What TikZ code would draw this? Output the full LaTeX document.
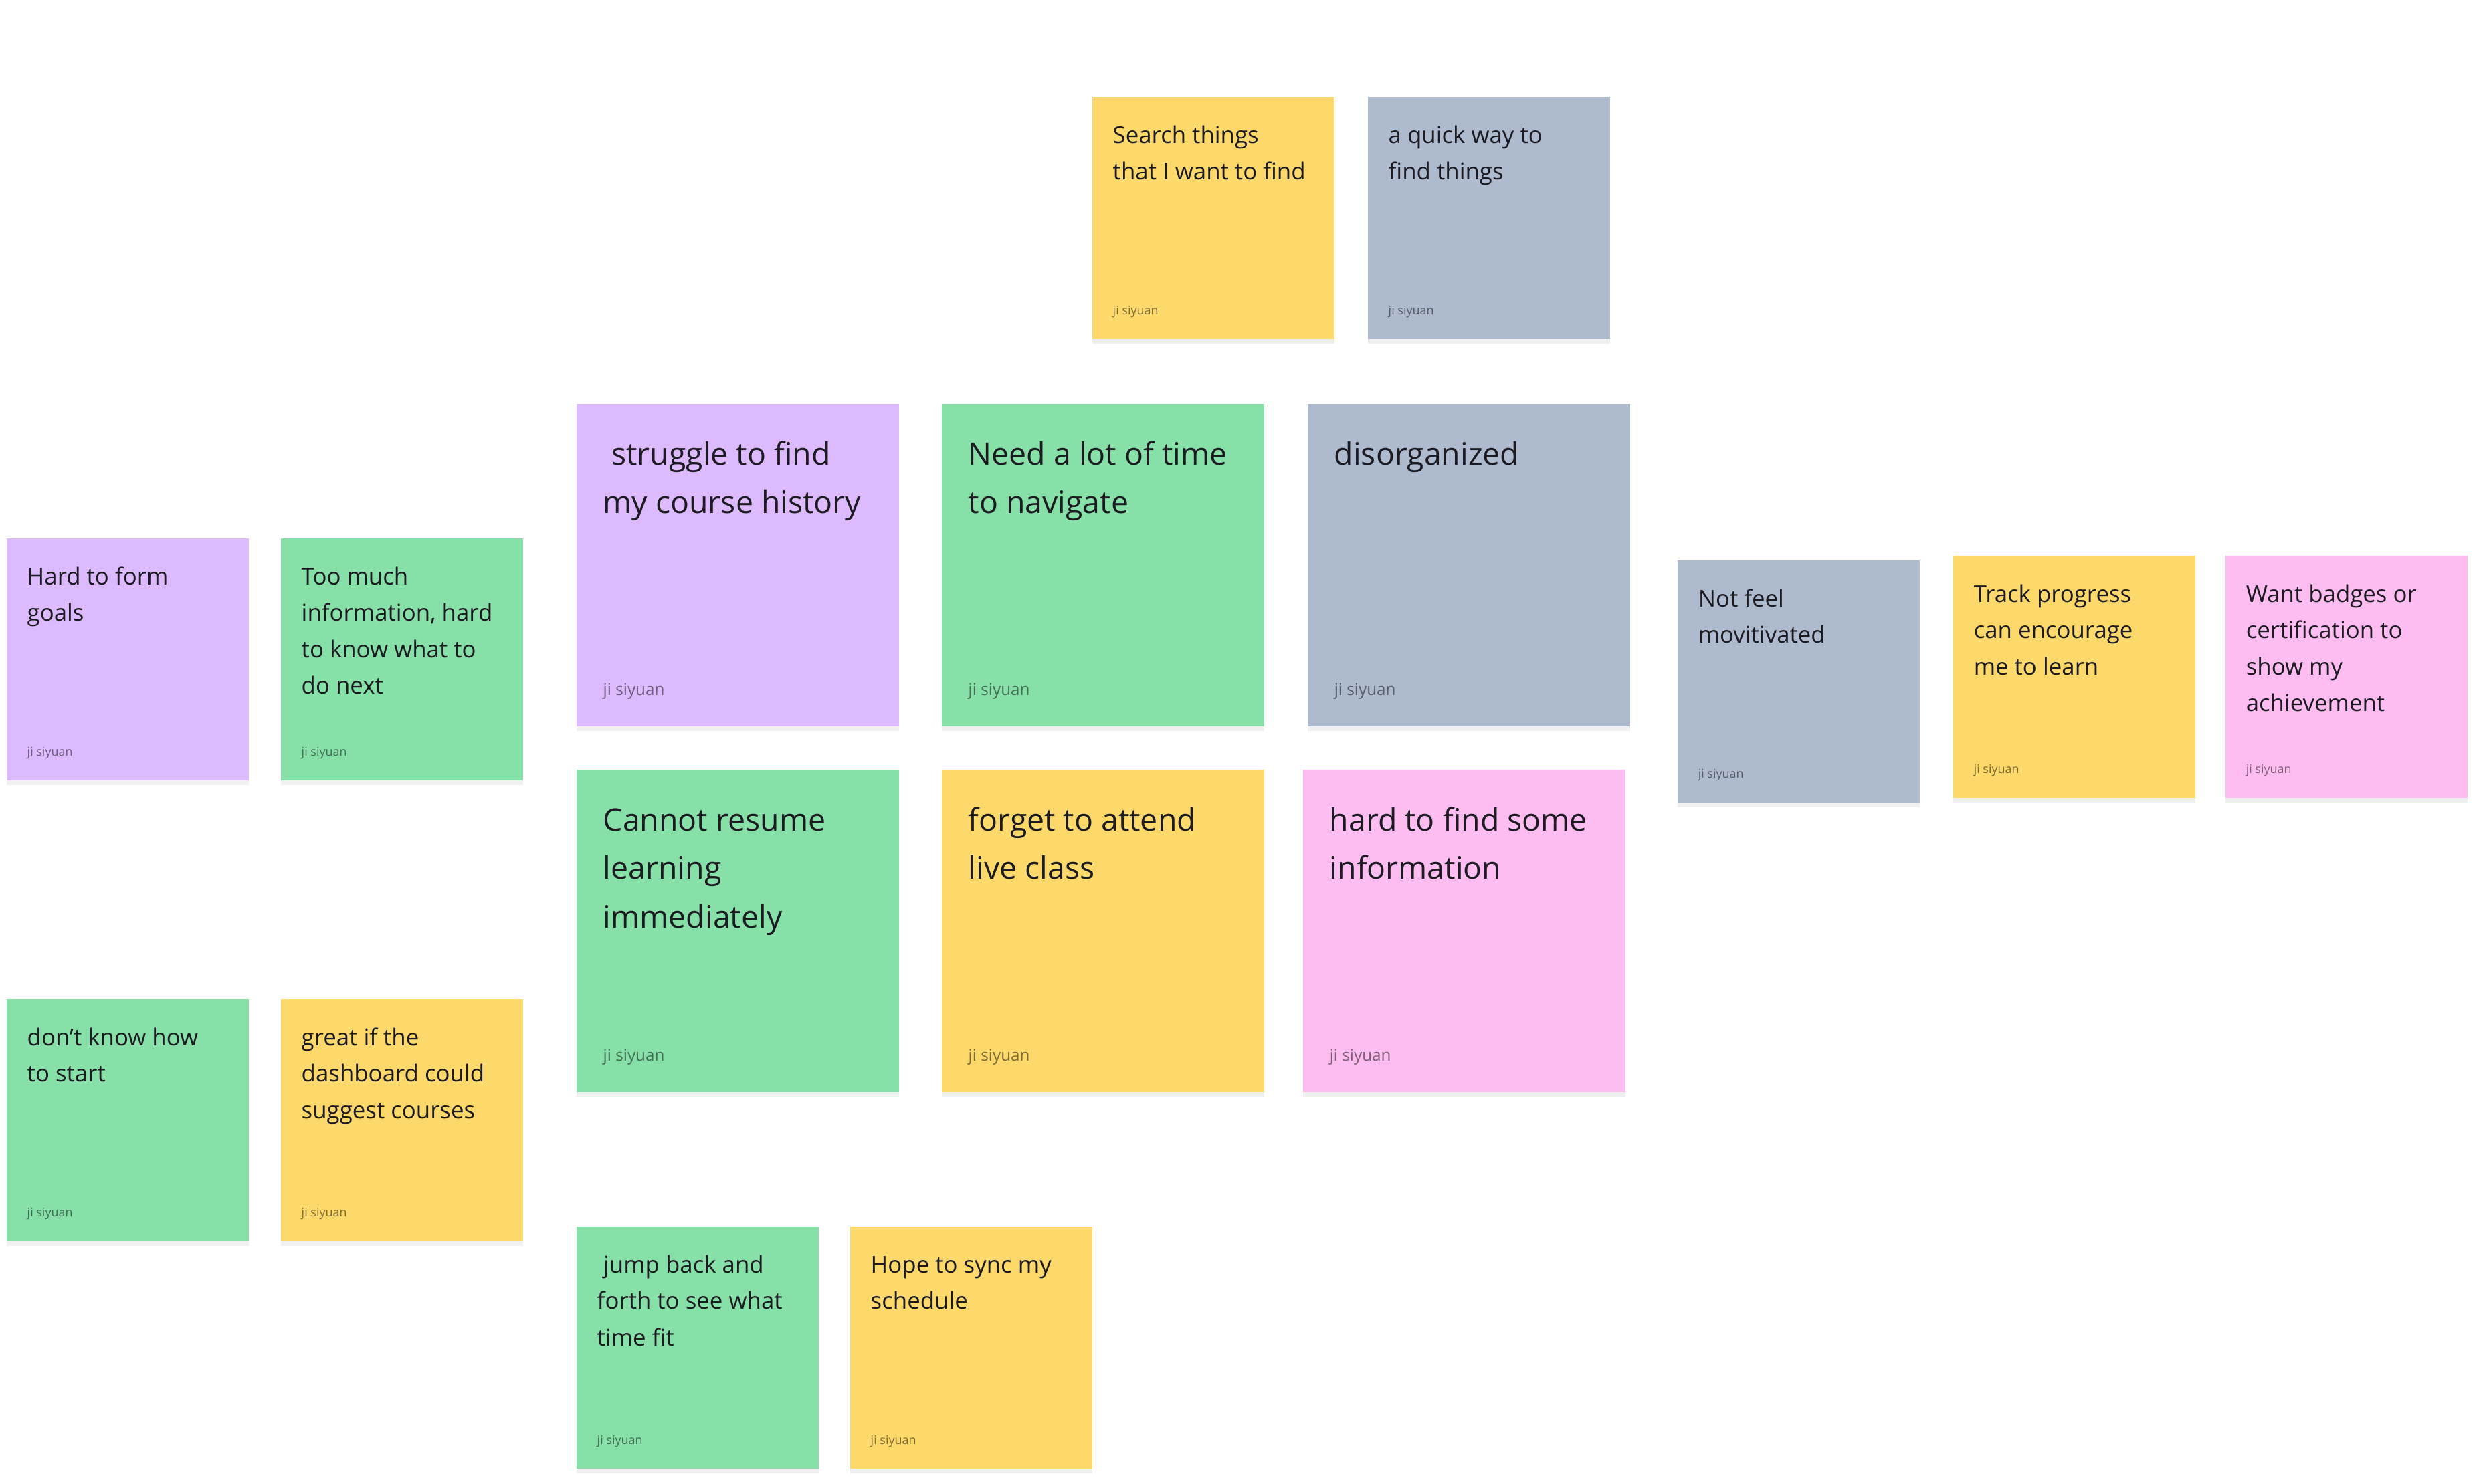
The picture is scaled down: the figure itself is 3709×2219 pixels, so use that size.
\documentclass[tikz,border=0pt]{standalone}
\usepackage{fontspec}
\setmainfont{Open Sans}
\usetikzlibrary{shadows}
\definecolor{noteyellow}{HTML}{FDD86A}
\definecolor{noteblue}{HTML}{AEBBCF}
\definecolor{notepurple}{HTML}{DDBAFD}
\definecolor{notegreen}{HTML}{86E0A8}
\definecolor{notepink}{HTML}{FDBDF0}
\definecolor{notetext}{HTML}{1C1B22}
\tikzset{
  notebase/.style={anchor=north west, inner sep=0pt, draw=none,
    drop shadow={shadow xshift=0pt, shadow yshift=-2pt, opacity=0.06, fill=black}},
  smallcard/.style={notebase, minimum width=3.62cm, minimum height=3.62cm},
  bigcard/.style={notebase, minimum width=4.82cm, minimum height=4.82cm},
  smalltext/.style={anchor=base west, inner sep=0pt, text=notetext,
    font=\fontsize{9.9}{15.5}\selectfont},
  bigtext/.style={anchor=base west, inner sep=0pt, text=notetext,
    font=\fontsize{13.2}{20.7}\selectfont},
  smallauthor/.style={anchor=base west, inner sep=0pt, text=black, text opacity=0.5,
    font=\fontsize{5.1}{6}\selectfont},
  bigauthor/.style={anchor=base west, inner sep=0pt, text=black, text opacity=0.5,
    font=\fontsize{6.9}{8}\selectfont},
  grouplabel/.style={inner sep=0pt, text=white, font=\fontsize{18}{22}\selectfont}
}
\newcommand{\smallnote}[5]{%
  \node[smallcard, fill=#4] (#1) at (#2,#3) {};
  \node[smalltext] (#1-t) at ([xshift=0.31cm,yshift=-0.70cm]#1.north west)
    {\parbox[t]{3.25cm}{\raggedright #5}};
  \node[smallauthor] (#1-a) at ([xshift=0.31cm,yshift=0.37cm]#1.south west) {ji siyuan};
}
\newcommand{\bignote}[5]{%
  \node[bigcard, fill=#4] (#1) at (#2,#3) {};
  \node[bigtext] (#1-t) at ([xshift=0.40cm,yshift=-0.92cm]#1.north west)
    {\parbox[t]{4.4cm}{\raggedright #5}};
  \node[bigauthor] (#1-a) at ([xshift=0.40cm,yshift=0.47cm]#1.south west) {ji siyuan};
}
\begin{document}
\begin{tikzpicture}[x=0.01cm,y=-0.01cm]
\useasboundingbox[fill=white] (0,0) rectangle (3709,2219);

% faint (white) group labels
\node[grouplabel] (lab-way) at (1870,55) {Way to find things};
\node[grouplabel] (lab-dis) at (1270,492) {Disorganized};
\node[grouplabel] (lab-goal) at (190,715) {Goal forming};
\node[grouplabel] (lab-prog) at (2700,775) {Progress tracking};
\node[grouplabel] (lab-rec) at (480,1410) {Course recommendation};
\node[grouplabel] (lab-sch) at (1010,1740) {Schedule sync};

% top pair
\smallnote{search}{1632}{144}{noteyellow}{Search things\\that I want to find}
\smallnote{quick}{2044}{144}{noteblue}{a quick way to\\find things}

% big central cards
\bignote{struggle}{861}{603}{notepurple}{\hspace*{0.27em}struggle to find\\my course history}
\bignote{navigate}{1407}{603}{notegreen}{Need a lot of time\\to navigate}
\bignote{disorg}{1954}{603}{noteblue}{disorganized}
\bignote{resume}{861}{1150}{notegreen}{Cannot resume\\learning\\immediately}
\bignote{forget}{1407}{1150}{noteyellow}{forget to attend\\live class}
\bignote{hardfind}{1947}{1150}{notepink}{hard to find some\\information}

% goal forming
\smallnote{goals}{9}{804}{notepurple}{Hard to form\\goals}
\smallnote{toomuch}{419}{804}{notegreen}{Too much\\information, hard\\to know what to\\do next}

% recommendation
\smallnote{start}{9}{1493}{notegreen}{don’t know how\\to start}
\smallnote{suggest}{419}{1493}{noteyellow}{great if the\\dashboard could\\suggest courses}

% progress tracking
\smallnote{motiv}{2507}{837}{noteblue}{Not feel\\movitivated}
\smallnote{track}{2919}{830}{noteyellow}{Track progress\\can encourage\\me to learn}
\smallnote{badges}{3326}{830}{notepink}{Want badges or\\certification to\\show my\\achievement}

% schedule
\smallnote{jump}{861}{1833}{notegreen}{\hspace*{0.27em}jump back and\\forth to see what\\time fit}
\smallnote{sync}{1270}{1833}{noteyellow}{Hope to sync my\\schedule}
\end{tikzpicture}
\end{document}
